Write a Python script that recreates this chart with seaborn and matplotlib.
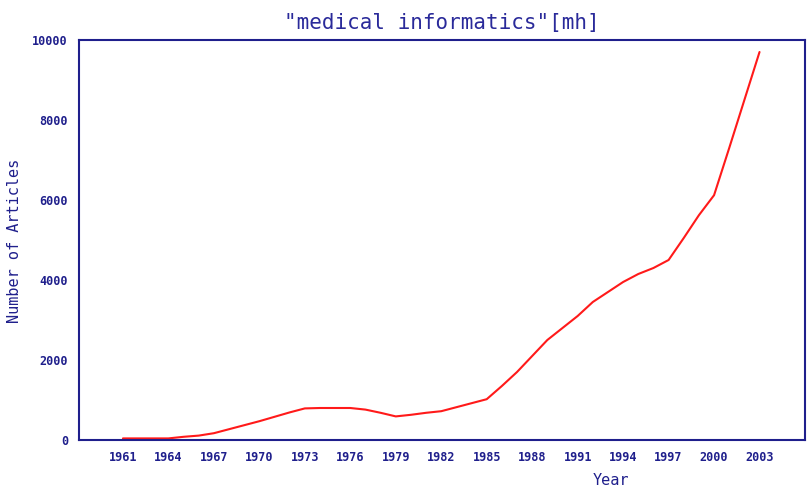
import matplotlib
matplotlib.use("Agg")
import matplotlib.pyplot as plt
import seaborn as sns
import pandas as pd

years = list(range(1961, 2004))
articles = [40, 40, 40, 40, 80, 110, 170, 270, 370, 470, 580, 690, 790,
            800, 800, 800, 760, 680, 590, 630, 680, 720, 820, 920, 1020,
            1350, 1700, 2100, 2500, 2800, 3100, 3450, 3700, 3950, 4150, 4300,
            4500, 5050, 5620, 6120, 7300, 8500, 9700]
xticks = list(range(1961, 2004, 3))
yticks = [0, 2000, 4000, 6000, 8000, 10000]

df = pd.DataFrame({"Year": years, "Articles": articles})

sns.set_style("white")
plt.rcParams['font.family'] = ['DejaVu Sans Mono', 'DejaVu Sans']

navy = "#1f1f8c"

fig = plt.figure(figsize=(8.09, 4.95), dpi=100)
ax = fig.add_axes([79/809, 1-440/495, (805-79)/809, 400/495])

sns.lineplot(data=df, x="Year", y="Articles", ax=ax, color="#ff1a1a", linewidth=1.5)

ax.set_xlim(1958.1, 2006.0)
ax.set_ylim(0, 10000)
ax.set_xticks(xticks)
ax.set_yticks(yticks)
ax.set_xticklabels([str(t) for t in xticks], fontsize=8.5, fontweight='bold', color=navy)
ax.set_yticklabels([str(t) for t in yticks], fontsize=8.5, fontweight='bold', color=navy)
ax.tick_params(axis='both', direction='in', length=7, width=1.5, color=navy)
ax.tick_params(axis='x', pad=8)
ax.tick_params(axis='y', pad=8)

for s in ax.spines.values():
    s.set_color(navy)
    s.set_linewidth(1.5)
    s.set_visible(True)

ax.set_xlabel("Year", fontsize=11, color=navy)
ax.set_ylabel("Number of Articles", fontsize=11, color=navy)
ax.xaxis.set_label_coords(0.733, -0.082)
ax.yaxis.set_label_coords(-0.078, 0.4975)

ax.set_title('"medical informatics"[mh]', fontsize=15, color="#2a2a9a", pad=8)

fig.savefig("out.png", dpi=100)
